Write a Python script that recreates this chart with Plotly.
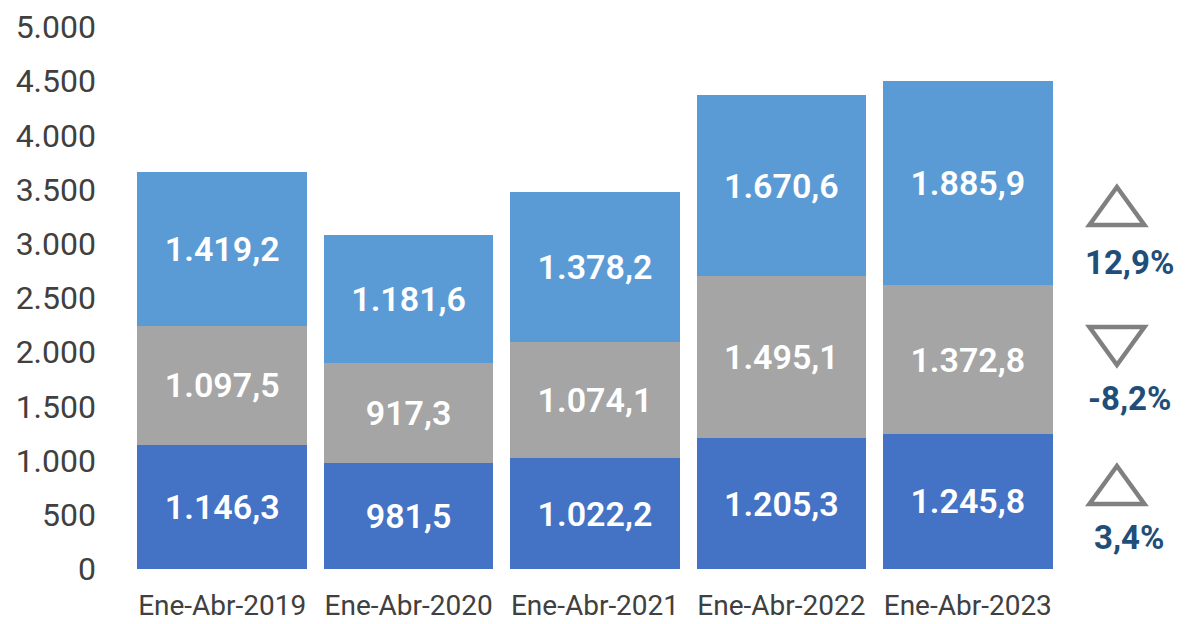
import plotly.graph_objects as go

categories = ["Ene-Abr-2019", "Ene-Abr-2020", "Ene-Abr-2021", "Ene-Abr-2022", "Ene-Abr-2023"]
serie_base = [1146.3, 981.5, 1022.2, 1205.3, 1245.8]
serie_media = [1097.5, 917.3, 1074.1, 1495.1, 1372.8]
serie_alta = [1419.2, 1181.6, 1378.2, 1670.6, 1885.9]
colors = ["#4472C4", "#A5A5A5", "#5B9BD5"]

variaciones = ["3,4%", "-8,2%", "12,9%"]
direcciones = ["up", "down", "up"]
# y (data units) of triangle centers and percent labels
tri_y = [775, 2057, 3349]
txt_y = [295, 1577, 2832]

FONT = "Roboto, 'Open Sans', sans-serif"

fig = go.Figure()
for vals, col in zip([serie_base, serie_media, serie_alta], colors):
    fig.add_trace(go.Bar(
        x=categories, y=vals,
        marker=dict(color=col, line=dict(width=0)),
        texttemplate="%{y:,.1f}",
        textposition="inside",
        insidetextanchor="middle",
        textangle=0,
        constraintext="none",
        textfont=dict(family=FONT, size=34, color="white", weight=600),
        hoverinfo="skip",
    ))

shapes = []
annotations = []
cx = 1.060
hw = 0.0295
hh = 175
for d, ty, yy, t in zip(direcciones, tri_y, txt_y, variaciones):
    if d == "up":
        path = f"M {cx-hw},{ty-hh} L {cx+hw},{ty-hh} L {cx},{ty+hh} Z"
    else:
        path = f"M {cx-hw},{ty+hh} L {cx+hw},{ty+hh} L {cx},{ty-hh} Z"
    shapes.append(dict(type="path", xref="paper", yref="y", path=path,
                       line=dict(color="#808080", width=4.5), fillcolor="rgba(0,0,0,0)"))
    annotations.append(dict(xref="paper", yref="y", x=cx + 0.013, y=yy, text=t,
                            showarrow=False, xanchor="center", yanchor="middle",
                            font=dict(family=FONT, size=33, color="#1F4E79", weight="bold")))

fig.update_layout(
    barmode="stack",
    bargap=0.09,
    width=1170, height=616,
    margin=dict(l=121, r=117, t=19, b=55, autoexpand=False),
    paper_bgcolor="white",
    plot_bgcolor="white",
    showlegend=False,
    separators=",.",
    shapes=shapes,
    annotations=annotations,
    xaxis=dict(
        showgrid=False, showline=False, zeroline=False, automargin=False,
        tickfont=dict(family=FONT, size=28, color="#404040"),
        ticklabelstandoff=17,
    ),
    yaxis=dict(
        range=[0, 5000], dtick=500, tickformat=",d", automargin=False,
        showgrid=False, showline=False, zeroline=False,
        tickfont=dict(family=FONT, size=32, color="#404040"),
        ticklabelstandoff=32,
    ),
)

fig.write_html("out.html")
